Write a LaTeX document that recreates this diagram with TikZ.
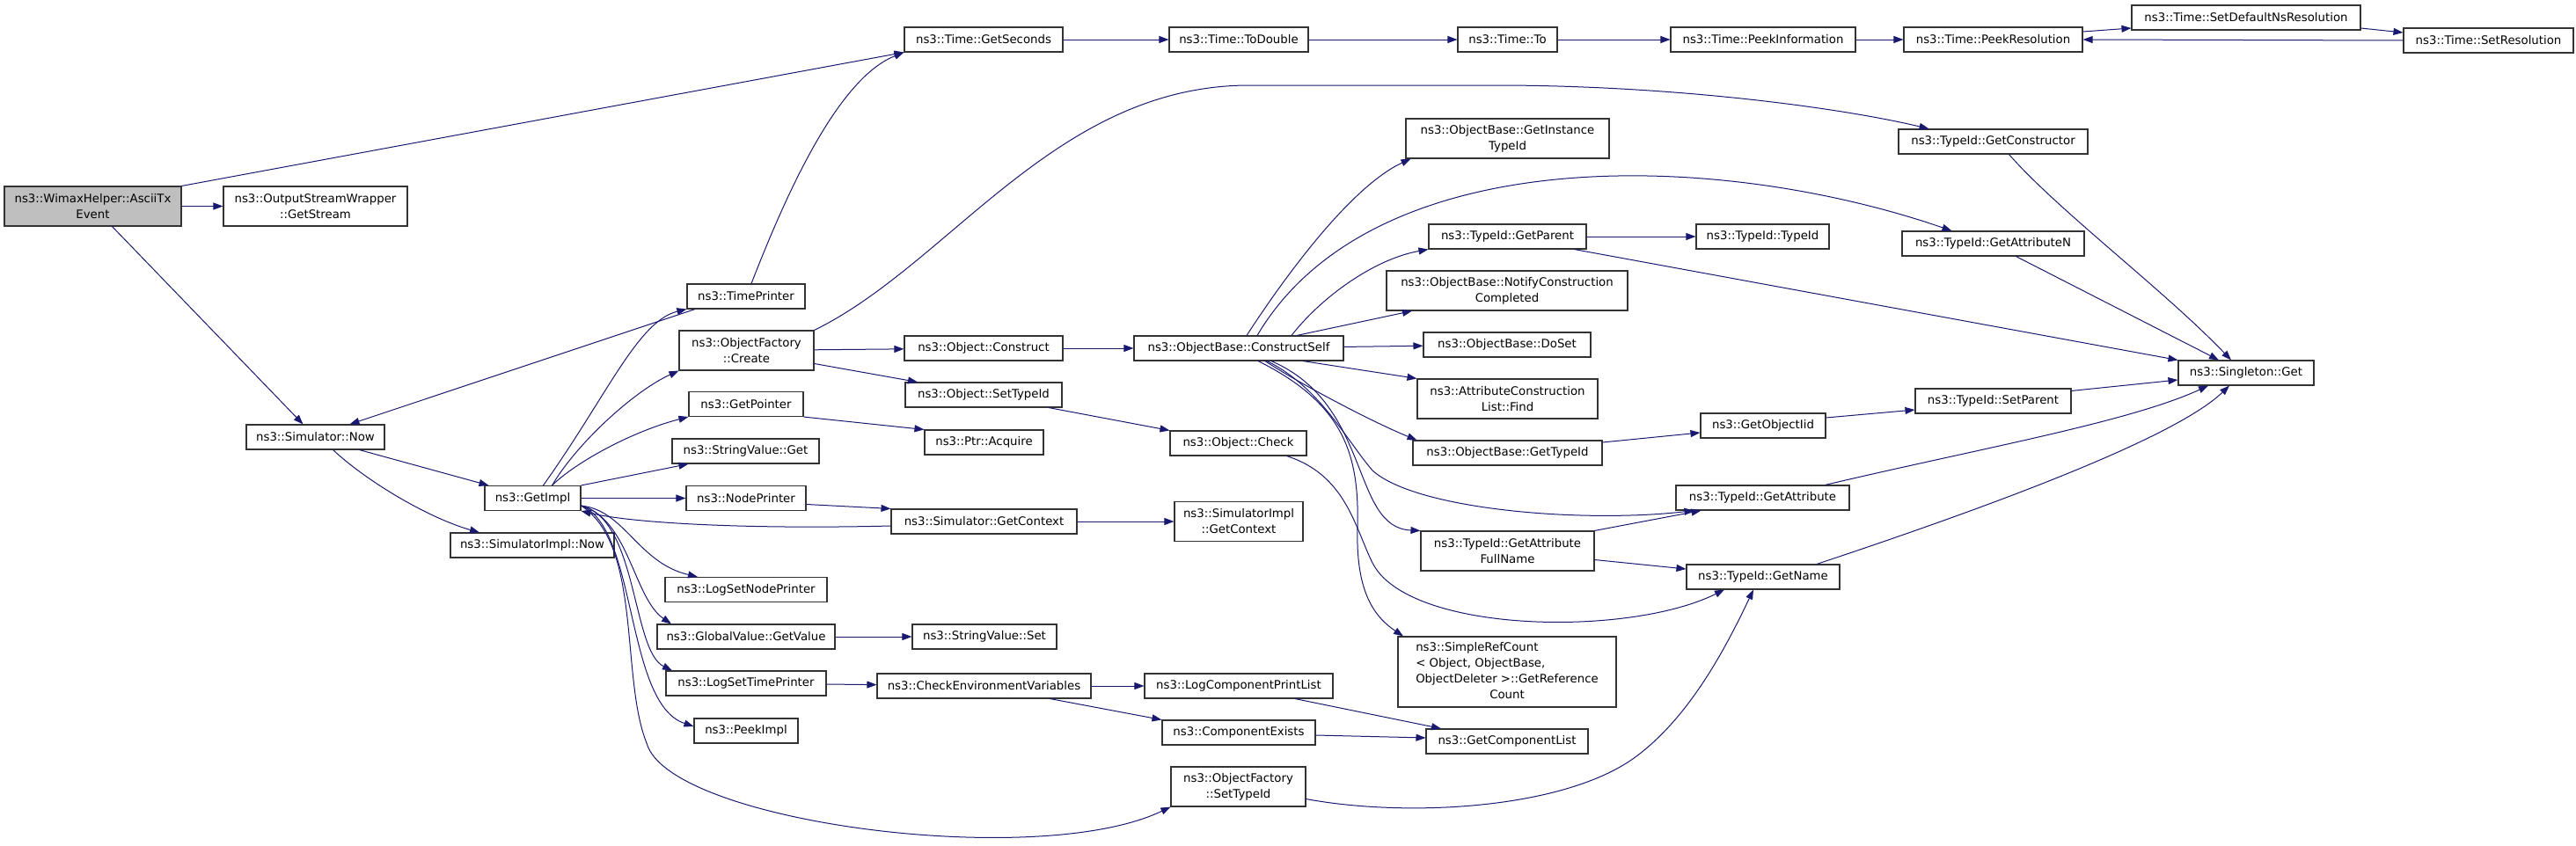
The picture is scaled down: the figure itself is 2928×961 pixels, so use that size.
\documentclass[tikz,border=0pt]{standalone}
\usepackage{fontspec}
\setmainfont{DejaVu Sans}
\usetikzlibrary{arrows.meta}
\definecolor{edgeblue}{HTML}{191970}
\definecolor{rootgray}{HTML}{BFBFBF}
\tikzset{
  fn/.style={draw=black!80, line width=1.1pt, fill=white, inner sep=0pt,
    minimum height=28pt, align=center, font=\fontsize{13.3}{18}\selectfont},
  fn2/.style={fn, minimum height=45pt},
  call/.style={draw=edgeblue, line width=1pt, -{Triangle[length=11pt,width=8pt]}}
}
\begin{document}
\begin{tikzpicture}[x=1pt, y=-1pt]
    \useasboundingbox (0,0) rectangle (2928,961);

    \node [fn2, fill=rootgray, minimum width=201pt] (asciitx) at (105.5,234.5) {ns3::WimaxHelper::AsciiTx\\Event};
    \node [fn2, minimum width=209pt] (getstream) at (358.5,234.5) {ns3::OutputStreamWrapper\\::GetStream};
    \node [fn, minimum width=157pt] (simnow) at (358.5,497) {ns3::Simulator::Now};
    \node [fn, minimum width=109pt] (getimpl) at (605.5,566.5) {ns3::GetImpl};
    \node [fn, minimum width=186pt] (simimplnow) at (605,620) {ns3::SimulatorImpl::Now};

    \node [fn, minimum width=180pt] (getseconds) at (1118,45) {ns3::Time::GetSeconds};
    \node [fn, minimum width=158pt] (todouble) at (1408,45) {ns3::Time::ToDouble};
    \node [fn, minimum width=113pt] (timeto) at (1713.5,45) {ns3::Time::To};
    \node [fn, minimum width=210pt] (peekinfo) at (2004,45) {ns3::Time::PeekInformation};
    \node [fn, minimum width=203pt] (peekres) at (2265.5,45) {ns3::Time::PeekResolution};
    \node [fn, minimum width=260pt] (setdefault) at (2553,20) {ns3::Time::SetDefaultNsResolution};
    \node [fn, minimum width=193pt] (setres) at (2828.5,46) {ns3::Time::SetResolution};

    \node [fn, minimum width=134pt] (timeprinter) at (848,337) {ns3::TimePrinter};
    \node [fn2, minimum width=153pt] (create) at (848.5,398.5) {ns3::ObjectFactory\\::Create};
    \node [fn, minimum width=130pt] (getpointer) at (848,459.5) {ns3::GetPointer};
    \node [fn, minimum width=167pt] (strget) at (847.5,513) {ns3::StringValue::Get};
    \node [fn, minimum width=136pt] (nodeprinter) at (848,566.5) {ns3::NodePrinter};
    \node [fn, minimum width=184pt] (lognodeprinter) at (848,670.5) {ns3::LogSetNodePrinter};
    \node [fn, minimum width=202pt] (getvalue) at (848,724) {ns3::GlobalValue::GetValue};
    \node [fn, minimum width=182pt] (logtimeprinter) at (848,777) {ns3::LogSetTimePrinter};
    \node [fn, minimum width=118pt] (peekimpl) at (848,831) {ns3::PeekImpl};

    \node [fn, minimum width=180pt] (construct) at (1118,396) {ns3::Object::Construct};
    \node [fn, minimum width=178pt] (objsettypeid) at (1118,449) {ns3::Object::SetTypeId};
    \node [fn, minimum width=135pt] (acquire) at (1118.5,503) {ns3::Ptr::Acquire};
    \node [fn, minimum width=211pt] (getcontext) at (1118.5,593) {ns3::Simulator::GetContext};
    \node [fn, minimum width=164pt] (strset) at (1119,724) {ns3::StringValue::Set};
    \node [fn, minimum width=243pt] (checkenv) at (1118.5,780) {ns3::CheckEnvironmentVariables};

    \node [fn, minimum width=238pt] (constructself) at (1408,396) {ns3::ObjectBase::ConstructSelf};
    \node [fn, minimum width=155pt] (check) at (1407.5,504) {ns3::Object::Check};
    \node [fn2, minimum width=146pt] (implcontext) at (1408,593) {ns3::SimulatorImpl\\::GetContext};
    \node [fn, minimum width=214pt] (printlist) at (1408,780) {ns3::LogComponentPrintList};
    \node [fn, minimum width=174pt] (compexists) at (1408,833) {ns3::ComponentExists};
    \node [fn2, minimum width=153pt] (factsettypeid) at (1407.5,894.5) {ns3::ObjectFactory\\::SetTypeId};

    \node [fn2, minimum width=231pt] (instancetypeid) at (1713.5,157.5) {ns3::ObjectBase::GetInstance\\TypeId};
    \node [fn, minimum width=179pt] (getparent) at (1713.5,269) {ns3::TypeId::GetParent};
    \node [fn2, minimum width=274pt] (notify) at (1713,330.5) {ns3::ObjectBase::NotifyConstruction\\Completed};
    \node [fn, minimum width=190pt] (doset) at (1713,392) {ns3::ObjectBase::DoSet};
    \node [fn2, minimum width=205pt] (find) at (1713.5,453.5) {ns3::AttributeConstruction\\List::Find};
    \node [fn, minimum width=215pt] (obgettypeid) at (1713.5,515) {ns3::ObjectBase::GetTypeId};
    \node [fn2, minimum width=197pt] (fullname) at (1713.5,626.5) {ns3::TypeId::GetAttribute\\FullName};
    \node [fn, minimum width=248pt, minimum height=80pt] (refcount) at (1713,764) {\begin{tabular}{@{}l@{}}ns3::SimpleRefCount\\< Object, ObjectBase,\\\multicolumn{1}{@{}c@{}}{ObjectDeleter >::GetReference}\\\multicolumn{1}{@{}c@{}}{Count}\end{tabular}};
    \node [fn, minimum width=184pt] (getcomplist) at (1713,843) {ns3::GetComponentList};

    \node [fn, minimum width=151pt] (tidtid) at (2003.5,269) {ns3::TypeId::TypeId};
    \node [fn, minimum width=142pt] (getobjectiid) at (2004,484) {ns3::GetObjectIid};
    \node [fn, minimum width=197pt] (getattr) at (2003.5,566) {ns3::TypeId::GetAttribute};
    \node [fn, minimum width=174pt] (getname) at (2004,656) {ns3::TypeId::GetName};

    \node [fn, minimum width=215pt] (getconstructor) at (2265.5,161) {ns3::TypeId::GetConstructor};
    \node [fn, minimum width=207pt] (getattrn) at (2265.5,277) {ns3::TypeId::GetAttributeN};
    \node [fn, minimum width=177pt] (setparent) at (2265.5,456) {ns3::TypeId::SetParent};
    \node [fn, minimum width=154pt] (singleton) at (2553,424) {ns3::Singleton::Get};

    \draw [call] (asciitx.north east) -- (getseconds.south west);
    \draw [call] (asciitx) -- (getstream);
    \draw [call] ([xshift=22pt]asciitx.south) -- ([xshift=-14pt]simnow.north);

    \draw [call] ([xshift=6pt]timeprinter.north) .. controls (890,230) and (950,90) .. (getseconds.south west);
    \draw [call] ([xshift=-58pt]timeprinter.south) -- ([xshift=39pt]simnow.north);
    \draw [call] ([xshift=50pt]simnow.south) -- ([xshift=-50pt]getimpl.north);
    \draw [call] ([xshift=20pt]simnow.south) .. controls (420,550) and (490,590) .. ([xshift=-60pt]simimplnow.north);

    \draw [call] ([xshift=12pt]getimpl.north) .. controls (690,450) and (725,365) .. (timeprinter.south west);
    \draw [call] ([xshift=22pt]getimpl.north) .. controls (655,505) and (720,445) .. (create.south west);
    \draw [call] ([xshift=22pt]getimpl.north) .. controls (655,525) and (720,490) .. (getpointer.south west);
    \draw [call] (getimpl.north east) -- ([xshift=-65pt]strget.south);
    \draw [call] (getimpl) -- (nodeprinter);
    \draw [call] ([yshift=-5pt]getcontext.west) .. controls (850,602) and (720,595) .. (getimpl.south east);
    \draw [call] ([yshift=6pt]getimpl.south east) .. controls (710,580) and (725,640) .. ([xshift=-55pt]lognodeprinter.north);
    \draw [call] ([yshift=6pt]getimpl.south east) .. controls (715,590) and (720,680) .. ([xshift=-85pt]getvalue.north);
    \draw [call] ([yshift=6pt]getimpl.south east) .. controls (725,590) and (718,740) .. ([xshift=-84pt]logtimeprinter.north);
    \draw [call] ([yshift=6pt]getimpl.south east) .. controls (725,600) and (710,800) .. ([yshift=5pt]peekimpl.west);
    \draw [call] ([yshift=6pt]getimpl.south east) .. controls (730,620) and (705,770) .. (735,845)
        .. controls (760,935) and (1180,990) .. (factsettypeid.south west);

    \draw [call] ([yshift=-7pt]nodeprinter.east) -- (getcontext.north west);
    \draw [call] (getpointer.south east) -- (acquire.north west);
    \draw [call] (create) -- (construct);
    \draw [call] ([yshift=-15pt]create.east) -- ([xshift=-75pt]objsettypeid.north);
    \draw [call] (create.north east) .. controls (1080,300) and (1200,97) .. (1420,97) -- (1700,97)
        .. controls (1900,97) and (2090,122) .. ([xshift=-73pt]getconstructor.north);
    \draw [call] (construct) -- (constructself);
    \draw [call] ([xshift=74pt]objsettypeid.south) -- (check.north west);

    \draw [call] ([xshift=9pt]constructself.north) .. controls (1470,300) and (1540,210) .. ([xshift=-110pt]instancetypeid.south);
    \draw [call] ([xshift=21pt]constructself.north) .. controls (1560,160) and (1950,170) .. ([xshift=-47pt]getattrn.north);
    \draw [call] ([xshift=60pt]constructself.north) .. controls (1500,340) and (1560,295) .. (getparent.south west);
    \draw [call] ([xshift=66pt]constructself.north) -- ([xshift=-108pt]notify.south);
    \draw [call] (constructself) -- (doset);
    \draw [call] ([xshift=73pt]constructself.south) -- (find.north west);
    \draw [call] ([xshift=30pt]constructself.south) .. controls (1475,435) and (1560,480) .. ([xshift=-103pt]obgettypeid.north);
    \draw [call] ([xshift=32pt]constructself.south) .. controls (1500,440) and (1530,500) .. (1560,535)
        .. controls (1610,580) and (1800,595) .. ([xshift=-78pt]getattr.south);
    \draw [call] ([xshift=37pt]constructself.south) .. controls (1560,460) and (1535,600) .. (fullname.north west);
    \draw [call] ([xshift=22pt]constructself.south) .. controls (1530,460) and (1545,520) .. (1543,600)
        .. controls (1541,670) and (1560,700) .. ([xshift=-118pt]refcount.north);
    \draw [call] ([xshift=55pt]check.south) .. controls (1530,540) and (1540,600) .. (1560,640)
        .. controls (1600,720) and (1850,725) .. ([xshift=-44pt]getname.south);

    \draw [call] (getparent) -- (tidtid);
    \draw [call] ([xshift=76pt]getparent.south) -- (singleton.north west);
    \draw [call] ([xshift=18pt]getconstructor.south) .. controls (2340,240) and (2460,330) .. ([xshift=-17pt]singleton.north);
    \draw [call] ([xshift=26pt]getattrn.south) -- ([xshift=-31pt]singleton.north);
    \draw [call] ([yshift=-3pt]setparent.north east) -- ([yshift=-8pt]singleton.west);
    \draw [call] ([xshift=71pt]getattr.north) .. controls (2250,510) and (2420,480) .. ([xshift=-43pt]singleton.south);
    \draw [call] ([xshift=61pt]getname.north) .. controls (2250,580) and (2470,500) .. ([xshift=-19pt]singleton.south);
    \draw [call] ([yshift=9pt]getobjectiid.east) -- ([yshift=-10pt]setparent.west);
    \draw [call] ([yshift=12pt]obgettypeid.east) -- ([yshift=-8pt]getobjectiid.west);
    \draw [call] ([xshift=99pt]fullname.north) -- ([xshift=-70pt]getattr.south);
    \draw [call] ([yshift=-10pt]fullname.east) -- ([yshift=9pt]getname.west);

    \draw [call] (getcontext) -- (implcontext);
    \draw [call] (getvalue) -- (strset);
    \draw [call] (logtimeprinter) -- (checkenv);
    \draw [call] (checkenv) -- (printlist);
    \draw [call] ([xshift=75pt]checkenv.south) -- (compexists.north west);
    \draw [call] ([xshift=64pt]printlist.south) -- ([xshift=-75pt]getcomplist.north);
    \draw [call] ([yshift=-3pt]compexists.east) -- ([yshift=4pt]getcomplist.west);
    \draw [call] ([yshift=-14pt]factsettypeid.east) .. controls (1600,930) and (1780,920) .. (1860,860)
        .. controls (1920,815) and (1960,740) .. ([xshift=-11pt]getname.south);

    \draw [call] (getseconds) -- (todouble);
    \draw [call] (todouble) -- (timeto);
    \draw [call] (timeto) -- (peekinfo);
    \draw [call] (peekinfo) -- (peekres);
    \draw [call] ([yshift=9pt]peekres.east) -- ([yshift=-12pt]setdefault.west);
    \draw [call] ([yshift=-12pt]setdefault.east) -- ([yshift=9pt]setres.west);
    \draw [call] (setres.west) -- (peekres.east);

\end{tikzpicture}
\end{document}
